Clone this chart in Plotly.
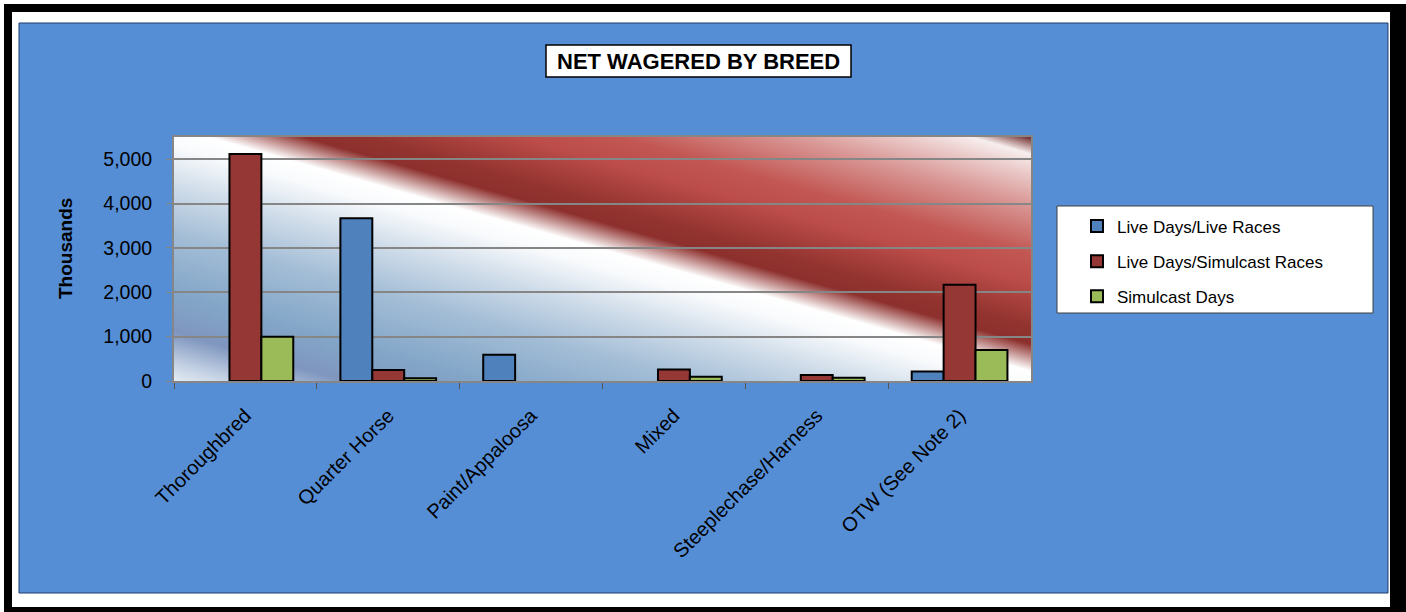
import base64
import plotly.graph_objects as go

# ---------------- data ----------------
categories = ["Thoroughbred", "Quarter Horse", "Paint/Appaloosa", "Mixed",
              "Steeplechase/Harness", "OTW (See Note 2)"]
live_days_live_races = [None, 3670, 590, None, None, 215]
live_days_simulcast_races = [5115, 250, None, 260, 135, 2170]
simulcast_days = [1000, 60, None, 95, 75, 700]
series_names = ["Live Days/Live Races", "Live Days/Simulcast Races", "Simulcast Days"]
y_ticks = [0, 1000, 2000, 3000, 4000, 5000]

# ---------------- geometry helpers ----------------
W, H = 1406, 612
def px(x):
    return x / W
def py(y):
    return 1 - y / H

PL, PR, PT, PB = 174, 1031, 137, 381

FONT = "Arial, Liberation Sans, sans-serif"
colors = ["#4F81BD", "#953735", "#9BBB59"]

# gradient background for plot area (diagonal, like Excel fill)
stops = [
    (0.00, "#e4ecf3"), (0.04, "#c0cee2"), (0.10, "#7f96bf"), (0.18, "#83a6c8"),
    (0.30, "#a3bdd6"), (0.40, "#cfdce9"), (0.48, "#f8fafc"), (0.52, "#ffffff"),
    (0.575, "#8d302d"), (0.61, "#92332f"), (0.70, "#bb4c49"), (0.76, "#c25753"),
    (0.86, "#d99896"), (0.93, "#eccfce"), (0.965, "#f7eeee"), (1.00, "#6b2826"),
]
stop_xml = "".join(f'<stop offset="{o}" stop-color="{c}"/>' for o, c in stops)
gw, gh = PR - PL, PB - PT
svg = (f'<svg xmlns="http://www.w3.org/2000/svg" width="{gw}" height="{gh}" '
       f'viewBox="0 0 {gw} {gh}" preserveAspectRatio="none"><defs>'
       f'<linearGradient id="g" x1="0" y1="1" x2="1" y2="0">{stop_xml}</linearGradient>'
       f'</defs><rect x="0" y="0" width="{gw}" height="{gh}" fill="url(#g)"/></svg>')
uri = "data:image/svg+xml;base64," + base64.b64encode(svg.encode()).decode()

fig = go.Figure()
for name, vals, col in zip(series_names,
                           [live_days_live_races, live_days_simulcast_races, simulcast_days],
                           colors):
    fig.add_trace(go.Bar(
        x=categories, y=vals, name=name, legendgroup=name,
        marker=dict(color=col, line=dict(color="black", width=2)),
    ))

def rect_path(x0, y0, x1, y1):
    return (f"M{px(x0)},{py(y0)} L{px(x1)},{py(y0)} L{px(x1)},{py(y1)} "
            f"L{px(x0)},{py(y1)} Z")

shapes = [
    # white outside the blue panel
    dict(type="path", xref="paper", yref="paper",
         path=rect_path(0, 0, W, H) + " " + rect_path(19, 23, 1388, 593),
         fillrule="evenodd", fillcolor="white", line=dict(width=0), layer="below"),
    # black frame
    dict(type="path", xref="paper", yref="paper",
         path=rect_path(4, 4, W, H) + " " + rect_path(12, 12, 1390, 607),
         fillrule="evenodd", fillcolor="black", line=dict(width=0), layer="below"),
    # panel border
    dict(type="rect", xref="paper", yref="paper",
         x0=px(19), x1=px(1388), y0=py(23), y1=py(593),
         line=dict(color="#1f3d6b", width=1), fillcolor="rgba(0,0,0,0)", layer="below"),
    # title box
    dict(type="rect", xref="paper", yref="paper",
         x0=px(546), x1=px(851), y0=py(45), y1=py(77),
         line=dict(color="black", width=1.5), fillcolor="white", layer="below"),
    # legend box
    dict(type="rect", xref="paper", yref="paper",
         x0=px(1057), x1=px(1373), y0=py(206), y1=py(313),
         line=dict(color="#404040", width=1), fillcolor="white", layer="below"),
]

annotations = [
    dict(text="<b>NET WAGERED BY BREED</b>", xref="paper", yref="paper",
         x=px(698.5), y=py(61.5), showarrow=False, xanchor="center", yanchor="middle",
         font=dict(family=FONT, size=22, color="black")),
    dict(text="<b>Thousands</b>", xref="paper", yref="paper",
         x=px(65), y=py(249), showarrow=False, xanchor="center", yanchor="middle",
         textangle=-90, font=dict(family=FONT, size=19, color="black")),
]

fig.update_layout(
    width=W, height=H,
    margin=dict(l=0, r=0, t=0, b=0, pad=0, autoexpand=False),
    paper_bgcolor="#558ED5",
    plot_bgcolor="rgba(0,0,0,0)",
    barmode="group", bargap=0.33, bargroupgap=0,
    shapes=shapes, annotations=annotations,
    images=[dict(source=uri, xref="paper", yref="paper",
                 x=px(PL), y=py(PT), sizex=px(PR) - px(PL), sizey=py(PT) - py(PB),
                 xanchor="left", yanchor="top", sizing="stretch", layer="below")],
    font=dict(family=FONT, color="black"),
    legend=dict(x=px(1077), y=py(208.5), xanchor="left", yanchor="top",
                bgcolor="rgba(0,0,0,0)", borderwidth=0,
                font=dict(family=FONT, size=17, color="black"),
                traceorder="grouped", tracegroupgap=10),
    xaxis=dict(domain=[px(PL), px(PR)], type="category", automargin=False,
               showline=True, linecolor="#868686", linewidth=2, mirror=True,
               ticks="outside", tickson="boundaries", ticklen=6, tickcolor="#555555",
               tickangle=-45, ticklabelstandoff=13,
               tickfont=dict(family=FONT, size=20, color="black"),
               showgrid=False),
    yaxis=dict(domain=[py(PB), py(PT)], range=[0, 5500], automargin=False,
               tickvals=y_ticks, tickformat=",",
               showgrid=True, gridcolor="#868686", gridwidth=2, zeroline=False,
               showline=True, linecolor="#868686", linewidth=2, mirror=True,
               ticks="outside", ticklen=6, tickcolor="#868686",
               ticklabelstandoff=10,
               tickfont=dict(family=FONT, size=19.5, color="black")),
)

fig.write_html("out.html", config={"displayModeBar": False},
               post_script="document.body.style.margin='0';document.body.style.overflow='hidden';")
